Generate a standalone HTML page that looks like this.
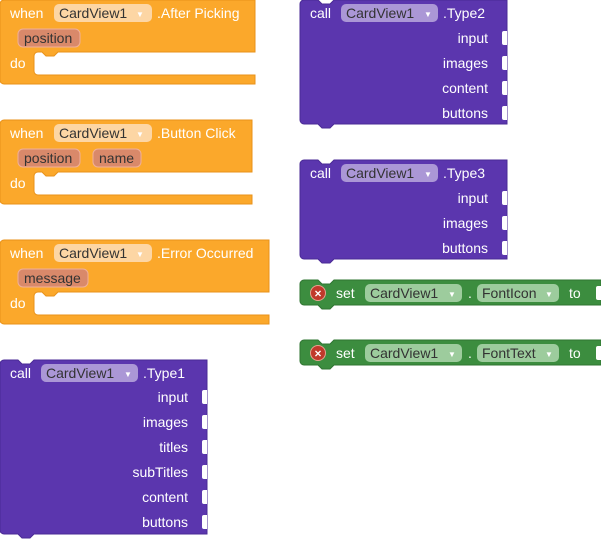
<!DOCTYPE html>
<html><head><meta charset="utf-8"><style>
body{margin:0;width:601px;height:539px;background:#fff;overflow:hidden}
svg text{font-family:"Liberation Sans",Arial,sans-serif;font-size:14px}
</style></head><body>
<svg width="601" height="539" xmlns="http://www.w3.org/2000/svg">
<defs>
<g id="sock"><path d="M0,-7 h-3 a2 2 0 0 0 -2 2 v10 a2 2 0 0 0 2 2 h3 z" fill="#fff"/></g>
</defs>
<!-- event blocks -->
<g id="ev1">
<path d="M4,0 H255 V52 H58 l-4,4 h-8 l-4,-4 h-4 a4 4 0 0 0 -4 4 v15 a4 4 0 0 0 4 4 H255 V84 H4 a4 4 0 0 1 -4 -4 V4 a4 4 0 0 1 4 -4z" fill="#fba82b" stroke="#e8921a" stroke-width="1"/>
<text x="10" y="18" fill="#fff">when</text>
<rect x="54" y="4" width="98" height="18" rx="5" fill="#fdd6a4"/>
<text x="59" y="18" fill="#333">CardView1</text><text x="136" y="17" fill="#fff" font-size="8" style="font-size:8px">▼</text>
<text x="157" y="18" fill="#fff">.After Picking</text>
<rect x="18" y="29" width="62" height="18" rx="5" fill="#d9896a" stroke="#f0b09a"/>
<text x="24" y="43" fill="#333">position</text>
<text x="10" y="68" fill="#fff">do</text>
</g>
<g transform="translate(0,120)">
<path d="M4,0 H252 V52 H58 l-4,4 h-8 l-4,-4 h-4 a4 4 0 0 0 -4 4 v15 a4 4 0 0 0 4 4 H252 V84 H4 a4 4 0 0 1 -4 -4 V4 a4 4 0 0 1 4 -4z" fill="#fba82b" stroke="#e8921a"/>
<text x="10" y="18" fill="#fff">when</text>
<rect x="54" y="4" width="98" height="18" rx="5" fill="#fdd6a4"/>
<text x="59" y="18" fill="#333">CardView1</text><text x="136" y="17" fill="#fff" style="font-size:8px">▼</text>
<text x="157" y="18" fill="#fff">.Button Click</text>
<rect x="18" y="29" width="62" height="18" rx="5" fill="#d9896a" stroke="#f0b09a"/>
<text x="24" y="43" fill="#333">position</text>
<rect x="93" y="29" width="48" height="18" rx="5" fill="#d9896a" stroke="#f0b09a"/>
<text x="99" y="43" fill="#333">name</text>
<text x="10" y="68" fill="#fff">do</text>
</g>
<g transform="translate(0,240)">
<path d="M4,0 H269 V52 H58 l-4,4 h-8 l-4,-4 h-4 a4 4 0 0 0 -4 4 v15 a4 4 0 0 0 4 4 H269 V84 H4 a4 4 0 0 1 -4 -4 V4 a4 4 0 0 1 4 -4z" fill="#fba82b" stroke="#e8921a"/>
<text x="10" y="18" fill="#fff">when</text>
<rect x="54" y="4" width="98" height="18" rx="5" fill="#fdd6a4"/>
<text x="59" y="18" fill="#333">CardView1</text><text x="136" y="17" fill="#fff" style="font-size:8px">▼</text>
<text x="157" y="18" fill="#fff">.Error Occurred</text>
<rect x="18" y="29" width="70" height="18" rx="5" fill="#d9896a" stroke="#f0b09a"/>
<text x="24" y="43" fill="#333">message</text>
<text x="10" y="68" fill="#fff">do</text>
</g>
<!-- Type1 -->
<g transform="translate(0,360)">
<path d="M4,0 h14 l4,4 h8 l4,-4 H207 V174 H34 l-4,4 h-8 l-4,-4 H4 a4 4 0 0 1 -4 -4 V4 a4 4 0 0 1 4 -4z" fill="#5b36ae" stroke="#4a2a95"/>
<text x="10" y="18" fill="#fff">call</text>
<rect x="41" y="4" width="97" height="18" rx="5" fill="#ab97d6"/>
<text x="46" y="18" fill="#333">CardView1</text><text x="124" y="17" fill="#fff" style="font-size:8px">▼</text>
<text x="143" y="18" fill="#fff">.Type1</text>
<g fill="#fff" text-anchor="end">
<text x="188" y="42">input</text><text x="188" y="67">images</text><text x="188" y="92">titles</text>
<text x="188" y="117">subTitles</text><text x="188" y="142">content</text><text x="188" y="167">buttons</text></g>
<use href="#sock" x="207" y="37"/><use href="#sock" x="207" y="62"/><use href="#sock" x="207" y="87"/>
<use href="#sock" x="207" y="112"/><use href="#sock" x="207" y="137"/><use href="#sock" x="207" y="162"/>
</g>
<!-- Type2 -->
<g transform="translate(300,0)">
<path d="M4,0 h14 l4,4 h8 l4,-4 H207 V124 H34 l-4,4 h-8 l-4,-4 H4 a4 4 0 0 1 -4 -4 V4 a4 4 0 0 1 4 -4z" fill="#5b36ae" stroke="#4a2a95"/>
<text x="10" y="18" fill="#fff">call</text>
<rect x="41" y="4" width="97" height="18" rx="5" fill="#ab97d6"/>
<text x="46" y="18" fill="#333">CardView1</text><text x="124" y="17" fill="#fff" style="font-size:8px">▼</text>
<text x="143" y="18" fill="#fff">.Type2</text>
<g fill="#fff" text-anchor="end">
<text x="188" y="43">input</text><text x="188" y="68">images</text><text x="188" y="93">content</text><text x="188" y="118">buttons</text></g>
<use href="#sock" x="207" y="38"/><use href="#sock" x="207" y="63"/><use href="#sock" x="207" y="88"/><use href="#sock" x="207" y="113"/>
</g>
<!-- Type3 -->
<g transform="translate(300,160)">
<path d="M4,0 h14 l4,4 h8 l4,-4 H207 V99 H34 l-4,4 h-8 l-4,-4 H4 a4 4 0 0 1 -4 -4 V4 a4 4 0 0 1 4 -4z" fill="#5b36ae" stroke="#4a2a95"/>
<text x="10" y="18" fill="#fff">call</text>
<rect x="41" y="4" width="97" height="18" rx="5" fill="#ab97d6"/>
<text x="46" y="18" fill="#333">CardView1</text><text x="124" y="17" fill="#fff" style="font-size:8px">▼</text>
<text x="143" y="18" fill="#fff">.Type3</text>
<g fill="#fff" text-anchor="end">
<text x="188" y="43">input</text><text x="188" y="68">images</text><text x="188" y="93">buttons</text></g>
<use href="#sock" x="207" y="38"/><use href="#sock" x="207" y="63"/><use href="#sock" x="207" y="88"/>
</g>
<!-- set blocks -->
<g transform="translate(300,280)">
<path d="M4,0 h14 l4,4 h8 l4,-4 H301 V25 H34 l-4,4 h-8 l-4,-4 H4 a4 4 0 0 1 -4 -4 V4 a4 4 0 0 1 4 -4z" fill="#3c8d3f" stroke="#2f7532"/>
<circle cx="18" cy="13" r="7.5" fill="#c0392b" stroke="#e8a090"/><text x="18" y="17.5" fill="#fff" text-anchor="middle" style="font-size:12px;font-weight:bold">×</text>
<text x="36" y="18" fill="#fff">set</text>
<rect x="65" y="4" width="97" height="18" rx="5" fill="#9dcc9d"/>
<text x="70" y="18" fill="#333">CardView1</text><text x="148" y="17" fill="#fff" style="font-size:8px">▼</text>
<text x="168" y="18" fill="#fff">.</text>
<rect x="177" y="4" width="82" height="18" rx="5" fill="#9dcc9d"/>
<text x="182" y="18" fill="#333">FontIcon</text><text x="245" y="17" fill="#fff" style="font-size:8px">▼</text>
<text x="269" y="18" fill="#fff">to</text>
<use href="#sock" x="301" y="13"/>
</g>
<g transform="translate(300,340)">
<path d="M4,0 h14 l4,4 h8 l4,-4 H301 V25 H34 l-4,4 h-8 l-4,-4 H4 a4 4 0 0 1 -4 -4 V4 a4 4 0 0 1 4 -4z" fill="#3c8d3f" stroke="#2f7532"/>
<circle cx="18" cy="13" r="7.5" fill="#c0392b" stroke="#e8a090"/><text x="18" y="17.5" fill="#fff" text-anchor="middle" style="font-size:12px;font-weight:bold">×</text>
<text x="36" y="18" fill="#fff">set</text>
<rect x="65" y="4" width="97" height="18" rx="5" fill="#9dcc9d"/>
<text x="70" y="18" fill="#333">CardView1</text><text x="148" y="17" fill="#fff" style="font-size:8px">▼</text>
<text x="168" y="18" fill="#fff">.</text>
<rect x="177" y="4" width="82" height="18" rx="5" fill="#9dcc9d"/>
<text x="182" y="18" fill="#333">FontText</text><text x="245" y="17" fill="#fff" style="font-size:8px">▼</text>
<text x="269" y="18" fill="#fff">to</text>
<use href="#sock" x="301" y="13"/>
</g>
</svg>
</body></html>
